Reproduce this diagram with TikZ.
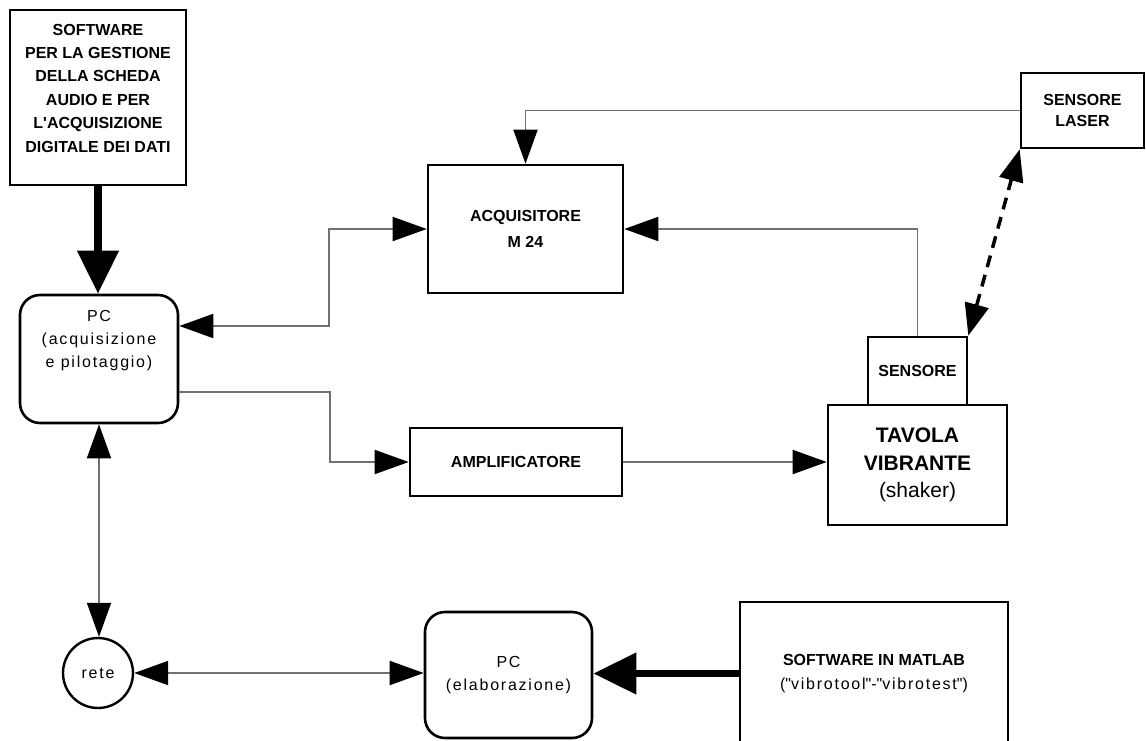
\documentclass[tikz,border=0pt]{standalone}
\usepackage{fontspec}
\setmainfont{Liberation Sans}
\newfontfamily\spacedsans[LetterSpace=11]{Liberation Sans}
\usetikzlibrary{arrows.meta}

\definecolor{wire}{HTML}{707070}

\tikzset{
  blockbox/.style={draw=black, line width=2.6pt, align=center, inner sep=0pt,
    font=\bfseries\fontsize{16}{23.4}\selectfont},
  pcbox/.style={blockbox, rounded corners=20pt,
    font=\spacedsans\fontsize{16}{23}\selectfont},
  link/.style={draw=wire, line width=1.9pt,
    >={Triangle[length=34pt,width=24pt,color=black]}},
  heavy/.style={draw=black, line width=7.5pt,
    >={Triangle[length=43pt,width=40pt,color=black]}},
  dashlink/.style={draw=black, line width=3.5pt, dash pattern=on 12pt off 8pt,
    >={Triangle[length=32pt,width=24pt,color=black]}}
}

\begin{document}
\begin{tikzpicture}[x=1pt,y=-1pt]
    \path[use as bounding box, clip] (0,0) rectangle (1146,740);

    % blocks
    \node[blockbox, minimum width=176pt, minimum height=175pt, text depth=19pt] (sw) at (98,97.5)
        {SOFTWARE\\PER LA GESTIONE\\DELLA SCHEDA\\AUDIO E PER\\L\textquotesingle ACQUISIZIONE\\DIGITALE DEI DATI};
    \node[pcbox, minimum width=158pt, minimum height=128pt, text depth=40pt] (pc) at (99,359)
        {PC\\(acquisizione\\e pilotaggio)};
    \node[blockbox, minimum width=195pt, minimum height=128pt,
          font=\bfseries\fontsize{16}{26}\selectfont] (acq) at (525.5,229) {ACQUISITORE\\M 24};
    \node[blockbox, minimum width=123pt, minimum height=75pt,
          font=\bfseries\fontsize{16}{21}\selectfont] (laser) at (1082.5,110.5) {SENSORE\\LASER};
    \node[blockbox, minimum width=99pt, minimum height=68pt] (sens) at (917.5,371) {SENSORE};
    \node[blockbox, minimum width=179pt, minimum height=120pt,
          font=\bfseries\fontsize{21}{27.5}\selectfont] (tav) at (917.5,465)
        {TAVOLA\\VIBRANTE\\{\mdseries (shaker)}};
    \node[blockbox, minimum width=212pt, minimum height=68pt] (amp) at (516,462) {AMPLIFICATORE};
    \node[blockbox, circle, line width=2.4pt, minimum size=70pt,
          font=\spacedsans\fontsize{16}{18}\selectfont] (rete) at (98,673) {rete};
    \node[pcbox, minimum width=167pt, minimum height=126pt] (pce) at (508.5,675)
        {PC\\(elaborazione)};
    \node[blockbox, minimum width=268pt, minimum height=143pt] (matlab) at (874,673.5)
        {SOFTWARE IN MATLAB\\{\mdseries\spacedsans (\textquotedbl vibrotool\textquotedbl -\textquotedbl vibrotest\textquotedbl )}};

    % connections
    \draw[heavy,->] (sw.south) -- (sw.south |- pc.north);
    \draw[link,<->] ([yshift=33pt]pc.east) -- ++(150,0) |- (acq.west);
    \draw[link,->] ([yshift=-33pt]pc.east) -- ++(151,0) |- (amp.west);
    \draw[link,->] (amp.east) -- (amp.east -| tav.west);
    \draw[link,->] (sens.north) |- (acq.east);
    \draw[link,->] (laser.west) -| (acq.north);
    \draw[dashlink,<->] (sens.north east) -- (laser.south west);
    \draw[link,<->] (pc.south) -- (pc.south |- rete.north);
    \draw[link,<->] (rete.east) -- (rete.east -| pce.west);
    \draw[heavy,->] (matlab.west) -- (matlab.west -| pce.east);
\end{tikzpicture}
\end{document}
